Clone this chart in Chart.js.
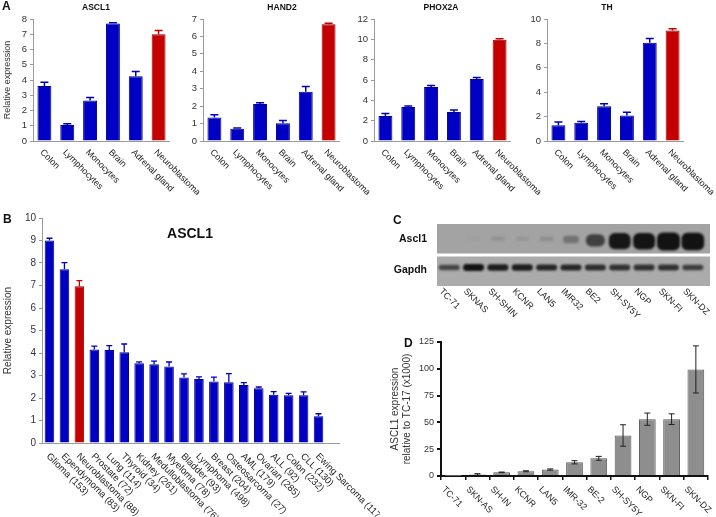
<!DOCTYPE html>
<html>
<head>
<meta charset="utf-8">
<script src="https://cdn.jsdelivr.net/npm/chart.js@4.4.0/dist/chart.umd.min.js"></script>
<style>
  body { margin: 0; background: #fff; }
  #page { position: relative; width: 716px; height: 517px; overflow: hidden;
          font-family: 'Liberation Sans', Arial, Helvetica, sans-serif; color: #111; }
  canvas { position: absolute; }
  .txt { position: absolute; font-weight: bold; line-height: 1; white-space: nowrap; }
  .ctr { transform: translateX(-50%); }
</style>
</head>
<body>
<div id="page">
  <canvas id="aAscl1" width="230" height="195" style="left:0px;top:0px"></canvas>
  <canvas id="aHand2" width="225" height="195" style="left:175px;top:0px"></canvas>
  <canvas id="aPhox2a" width="230" height="195" style="left:350px;top:0px"></canvas>
  <canvas id="aTh" width="196" height="195" style="left:520px;top:0px"></canvas>
  <canvas id="bTumors" width="380" height="317" style="left:0px;top:200px"></canvas>
  <canvas id="cBlot" width="336" height="125" style="left:380px;top:205px"></canvas>
  <canvas id="dLines" width="336" height="187" style="left:380px;top:330px"></canvas>

  <div class="txt" style="left:2px;top:0px;font-size:12px">A</div>
  <div class="txt ctr" style="left:96px;top:3px;font-size:8.5px">ASCL1</div>
  <div class="txt ctr" style="left:282px;top:3px;font-size:8.5px">HAND2</div>
  <div class="txt ctr" style="left:441px;top:3px;font-size:8.5px">PHOX2A</div>
  <div class="txt ctr" style="left:607px;top:3px;font-size:8.5px">TH</div>
  <div class="txt" style="left:3px;top:213px;font-size:12px">B</div>
  <div class="txt ctr" style="left:190px;top:226px;font-size:14px">ASCL1</div>
  <div class="txt" style="left:393px;top:214px;font-size:12px">C</div>
  <div class="txt" style="left:404px;top:337px;font-size:12px">D</div>
</div>
<script>
// ---- data ----
const tissues = ['Colon', 'Lymphocytes', 'Monocytes', 'Brain', 'Adrenal gland', 'Neuroblastoma'];
const ascl1Tissue = [3.6, 1.05, 2.65, 7.7, 4.25, 7.0];
const ascl1TissueErr = [0.25, 0.08, 0.2, 0.05, 0.3, 0.25];
const hand2Tissue = [1.35, 0.7, 2.12, 1.02, 2.82, 6.7];
const hand2TissueErr = [0.15, 0.05, 0.07, 0.15, 0.3, 0.05];
const phox2aTissue = [2.45, 3.35, 5.3, 2.85, 6.1, 9.95];
const phox2aTissueErr = [0.25, 0.1, 0.15, 0.2, 0.15, 0.1];
const thTissue = [1.3, 1.5, 2.85, 2.1, 8.05, 9.05];
const thTissueErr = [0.25, 0.1, 0.2, 0.25, 0.35, 0.15];

const tumorTypes = ['Glioma (153)', 'Ependymoma (83)', 'Neuroblastoma (88)', 'Prostate (72)', 'Lung (114)',
  'Thyroid (34)', 'Kidney (261)', 'Medulloblastoma (76)', 'Myeloma (78)', 'Bladder (93)', 'Lymphoma (498)',
  'Breast (204)', 'Osteosarcoma (27)', 'AML (179)', 'Ovarian (285)', 'ALL (92)', 'Colon (232)', 'CLL (130)',
  'Ewing Sarcoma (117)'];
const ascl1Tumor = [9.0, 7.72, 6.97, 4.16, 4.13, 4.03, 3.54, 3.5, 3.4, 2.91, 2.84, 2.73, 2.7, 2.58, 2.43,
  2.15, 2.12, 2.12, 1.19];
const ascl1TumorErr = [0.1, 0.3, 0.25, 0.15, 0.2, 0.37, 0.07, 0.14, 0.2, 0.16, 0.1, 0.2, 0.38, 0.1, 0.06,
  0.13, 0.09, 0.15, 0.11];

const blotLanes = ['TC-71', 'SKNAS', 'SH-SHIN', 'KCNR', 'LAN5', 'IMR32', 'BE2', 'SH-SY5Y', 'NGP', 'SKN-FI', 'SKN-DZ'];
const blotRows = ['Ascl1', 'Gapdh'];
const ascl1Band = [0, 0.03, 0.1, 0.08, 0.12, 0.3, 0.62, 0.88, 0.9, 1.0, 0.97];
const gapdhBand = [0.6, 0.95, 0.85, 0.85, 0.8, 0.8, 0.75, 0.72, 0.72, 0.72, 0.65];

const cellLines = ['TC-71', 'SKN-AS', 'SH-IN', 'KCNR', 'LAN5', 'IMR-32', 'BE-2', 'SH-SY5Y', 'NGP', 'SKN-FI', 'SKN-DZ'];
const ascl1Qpcr = [0.1, 1.5, 3.4, 4.4, 6.0, 12.8, 16.5, 37.8, 53, 53, 99.4];
const ascl1QpcrErr = [0, 0.7, 0.3, 0.5, 0.6, 1.5, 1.8, 10, 5.7, 5, 22];

// ---- look ----
Chart.defaults.font.family = "'Liberation Sans', Arial, Helvetica, sans-serif";
Chart.defaults.color = '#333';
Chart.defaults.animation = false;
Chart.defaults.plugins.legend.display = false;
Chart.defaults.plugins.tooltip.enabled = false;

const BLUE = '#0000c4', BLUE_EDGE = '#00008a';
const RED = '#c40000', RED_EDGE = '#8a0000';
const AXIS_GRAY = '#9a9a9a';

// error bars drawn through the y scale
const errorBars = {
  id: 'errorBars',
  afterDatasetsDraw(chart, args, opts) {
    const ctx = chart.ctx, y = chart.scales.y;
    chart.data.datasets.forEach((ds, di) => {
      if (!ds.errors) return;
      chart.getDatasetMeta(di).data.forEach((bar, i) => {
        const v = ds.data[i], e = ds.errors[i];
        if (!e) return;
        const top = y.getPixelForValue(v + e);
        const bot = opts.both ? y.getPixelForValue(v - e) : bar.y;
        ctx.save();
        ctx.strokeStyle = opts.color || ds.backgroundColor[i];
        ctx.lineWidth = opts.width;
        ctx.beginPath();
        ctx.moveTo(bar.x, bot); ctx.lineTo(bar.x, top);
        ctx.moveTo(bar.x - opts.cap, top); ctx.lineTo(bar.x + opts.cap, top);
        if (opts.both) { ctx.moveTo(bar.x - opts.cap, bot); ctx.lineTo(bar.x + opts.cap, bot); }
        ctx.stroke();
        ctx.restore();
      });
    });
  }
};

// category labels turned 45 degrees, reading downwards to the right
const rotatedLabels = {
  id: 'rotatedLabels',
  afterDraw(chart, args, opts) {
    const ctx = chart.ctx, x = chart.scales.x, y0 = chart.chartArea.bottom;
    ctx.save();
    ctx.font = opts.size + "px 'Liberation Sans', Arial, sans-serif";
    ctx.fillStyle = opts.color || '#222';
    ctx.textAlign = 'left';
    ctx.textBaseline = 'middle';
    chart.data.labels.forEach((lab, i) => {
      ctx.save();
      ctx.translate(x.getPixelForTick(i) + opts.dx, y0 + opts.dy);
      ctx.rotate(Math.PI / 4);
      ctx.fillText(lab, 0, 0);
      ctx.restore();
    });
    ctx.restore();
  }
};

// x axis line, may run past the last category
const baseline = {
  id: 'baseline',
  beforeDatasetsDraw(chart, args, opts) {
    const ctx = chart.ctx, a = chart.chartArea;
    ctx.save();
    ctx.strokeStyle = opts.color;
    ctx.lineWidth = 1;
    ctx.beginPath();
    ctx.moveTo(a.left, a.bottom + 0.5);
    ctx.lineTo(a.right + (opts.extend || 0), a.bottom + 0.5);
    ctx.stroke();
    ctx.restore();
  }
};

// western blot: membranes and bands placed by lane (x) and row (y) scales
const blot = {
  id: 'blot',
  beforeDatasetsDraw(chart, args, opts) {
    const ctx = chart.ctx, a = chart.chartArea, x = chart.scales.x, y = chart.scales.y;
    const right = a.right + opts.extend;
    const mid = (y.getPixelForValue(0) + y.getPixelForValue(1)) / 2;
    ctx.save();
    ctx.fillStyle = opts.rowColors[0];
    ctx.fillRect(a.left, a.top, right - a.left, mid - a.top);
    ctx.fillStyle = opts.rowColors[1];
    ctx.fillRect(a.left, mid, right - a.left, a.bottom - mid);
    ctx.fillStyle = '#fff';
    ctx.fillRect(a.left, mid - 1.5, right - a.left, 3);
    chart.data.datasets.forEach((ds, row) => {
      const cy = y.getPixelForValue(row);
      ds.data.forEach((s, i) => {
        if (s <= 0) return;
        const cx = x.getPixelForValue(i);
        const w = row === 0 ? 13 + 10 * s : 21;
        const h = row === 0 ? 3 + 15 * s : 3 + 4 * s;
        const yc = row === 0 ? cy + 3 * s - 1 : cy - 3;
        ctx.filter = 'blur(1.2px)';
        ctx.fillStyle = 'rgba(18,18,18,' + Math.min(1, s * 1.1) + ')';
        ctx.beginPath();
        ctx.roundRect(cx - w / 2, yc - h / 2, w, h, Math.min(h / 2, 6));
        ctx.fill();
      });
    });
    ctx.restore();
  }
};

function tissueChart(id, values, errors, yMax, yStep, yWidth, padRight, showTitle) {
  const isNb = tissues.map(t => t === 'Neuroblastoma');
  return new Chart(document.getElementById(id), {
    type: 'bar',
    data: {
      labels: tissues,
      datasets: [{
        data: values,
        errors: errors,
        backgroundColor: isNb.map(nb => nb ? RED : BLUE),
        borderColor: isNb.map(nb => nb ? RED_EDGE : BLUE_EDGE),
        borderWidth: 1,
        categoryPercentage: 1,
        barPercentage: 0.61
      }]
    },
    options: {
      responsive: false,
      layout: { padding: { top: 19, right: padRight, left: 0, bottom: 0 } },
      scales: {
        x: {
          ticks: { display: false },
          grid: { display: false },
          border: { display: false },
          afterFit: s => { s.height = 54; }
        },
        y: {
          min: 0, max: yMax,
          ticks: { stepSize: yStep, font: { size: 9.5 }, padding: 3, color: '#333' },
          grid: { display: true, drawOnChartArea: false, tickLength: 3, color: AXIS_GRAY },
          border: { display: true, color: AXIS_GRAY },
          title: { display: showTitle, text: 'Relative expression', font: { size: 9 },
                   color: '#333', padding: { top: 2, bottom: 0 } },
          afterFit: s => { s.width = yWidth; }
        }
      },
      plugins: {
        errorBars: { width: 1.5, cap: 4 },
        rotatedLabels: { size: 9, dx: -3, dy: 10 },
        baseline: { color: AXIS_GRAY, extend: 0 }
      }
    },
    plugins: [baseline, errorBars, rotatedLabels]
  });
}

tissueChart('aAscl1', ascl1Tissue, ascl1TissueErr, 8, 1, 33, 60, true);
tissueChart('aHand2', hand2Tissue, hand2TissueErr, 7, 1, 28, 60, false);
tissueChart('aPhox2a', phox2aTissue, phox2aTissueErr, 12, 2, 24, 69, false);
tissueChart('aTh', thTissue, thTissueErr, 10, 1, 27, 32, false);

// B: ASCL1 across tumour types
const tumorIsNb = tumorTypes.map(t => t.startsWith('Neuroblastoma'));
new Chart(document.getElementById('bTumors'), {
  type: 'bar',
  data: {
    labels: tumorTypes,
    datasets: [{
      data: ascl1Tumor,
      errors: ascl1TumorErr,
      backgroundColor: tumorIsNb.map(nb => nb ? RED : BLUE),
      borderColor: tumorIsNb.map(nb => nb ? RED_EDGE : BLUE_EDGE),
      borderWidth: 1,
      categoryPercentage: 1,
      barPercentage: 0.64
    }]
  },
  options: {
    responsive: false,
    layout: { padding: { top: 18, right: 54, left: 0, bottom: 0 } },
    scales: {
      x: {
        ticks: { display: false },
        grid: { display: false },
        border: { display: false },
        afterFit: s => { s.height = 74; }
      },
      y: {
        min: 0, max: 10,
        ticks: { stepSize: 1, font: { size: 10 }, padding: 3, color: '#333' },
        grid: { display: true, drawOnChartArea: false, tickLength: 3, color: AXIS_GRAY },
        border: { display: true, color: AXIS_GRAY },
        title: { display: true, text: 'Relative expression', font: { size: 10 },
                 color: '#333', padding: { top: 2, bottom: 0 } },
        afterFit: s => { s.width = 42; }
      }
    },
    plugins: {
      errorBars: { width: 1.3, cap: 3 },
      rotatedLabels: { size: 9.5, dx: -1.5, dy: 12 },
      baseline: { color: AXIS_GRAY, extend: 14 }
    }
  },
  plugins: [baseline, errorBars, rotatedLabels]
});

// C: western blot
new Chart(document.getElementById('cBlot'), {
  type: 'line',
  data: {
    labels: blotLanes,
    datasets: [
      { label: 'Ascl1', data: ascl1Band, showLine: false, pointRadius: 0 },
      { label: 'Gapdh', data: gapdhBand, showLine: false, pointRadius: 0 }
    ]
  },
  options: {
    responsive: false,
    layout: { padding: { top: 19, right: 11, left: 0, bottom: 0 } },
    scales: {
      x: {
        offset: true,
        ticks: { display: false },
        grid: { display: false },
        border: { display: false },
        afterFit: s => { s.height = 44; }
      },
      y: {
        type: 'category',
        labels: blotRows,
        offset: true,
        ticks: { font: { size: 10.5, weight: 'bold' }, color: '#111', padding: 2 },
        grid: { display: false },
        border: { display: false },
        afterFit: s => { s.width = 57; }
      }
    },
    plugins: {
      blot: { extend: 5, rowColors: ['#a3a3a3', '#ababab'] },
      rotatedLabels: { size: 9, dx: -8.5, dy: 4 }
    }
  },
  plugins: [blot, rotatedLabels]
});

// D: qPCR in cell lines
new Chart(document.getElementById('dLines'), {
  type: 'bar',
  data: {
    labels: cellLines,
    datasets: [{
      data: ascl1Qpcr,
      errors: ascl1QpcrErr,
      backgroundColor: '#8e8e8e',
      borderColor: '#575757',
      borderWidth: 1,
      categoryPercentage: 1,
      barPercentage: 0.69
    }]
  },
  options: {
    responsive: false,
    layout: { padding: { top: 12, right: 8, left: 0, bottom: 0 } },
    scales: {
      x: {
        ticks: { display: false },
        grid: { display: true, drawOnChartArea: false, tickLength: 4, color: '#111', lineWidth: 1.5 },
        border: { display: true, color: '#111', width: 2 },
        afterFit: s => { s.height = 41; }
      },
      y: {
        min: 0, max: 125,
        ticks: { stepSize: 25, font: { size: 9 }, padding: 3, color: '#333' },
        grid: { display: true, drawOnChartArea: false, tickLength: 4, color: '#111', lineWidth: 2 },
        border: { display: true, color: '#111', width: 2 },
        title: { display: true, text: ['ASCL1 expression', 'relative to TC-17 (x1000)'],
                 font: { size: 10 }, color: '#333', padding: { top: 9, bottom: 0 } },
        afterFit: s => { s.width = 61; }
      }
    },
    plugins: {
      errorBars: { both: true, color: '#222', width: 1, cap: 3 },
      rotatedLabels: { size: 9, dx: -10, dy: 12 }
    }
  },
  plugins: [errorBars, rotatedLabels]
});
</script>
</body>
</html>
